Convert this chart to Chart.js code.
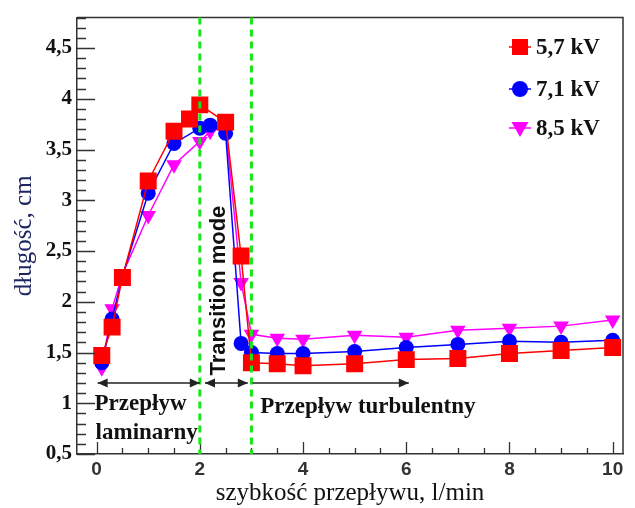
<!DOCTYPE html>
<html>
<head>
<meta charset="utf-8">
<script src="https://cdn.jsdelivr.net/npm/chart.js@4"></script>
<style>
  html, body { margin: 0; padding: 0; background: #fff; }
  #wrap { width: 635px; height: 508px; }
</style>
</head>
<body>
<div id="wrap"><canvas id="chart" width="635" height="508"></canvas></div>
<script>
// Flow rate (l/min) and discharge length (cm) per voltage
const flow57 = [0.1, 0.3, 0.5, 1.0, 1.5, 1.8, 2.0, 2.5, 2.8, 3.0, 3.5, 4, 5, 6, 7, 8, 9, 10];
const len57  = [1.47, 1.75, 2.24, 3.19, 3.68, 3.80, 3.94, 3.77, 2.45, 1.40, 1.39, 1.37, 1.39, 1.43, 1.44, 1.49, 1.52, 1.55];

const flow71 = [0.1, 0.3, 0.5, 1.0, 1.5, 2.0, 2.2, 2.5, 2.8, 3.0, 3.5, 4, 5, 6, 7, 8, 9, 10];
const len71  = [1.40, 1.83, 2.25, 3.07, 3.56, 3.71, 3.74, 3.66, 1.59, 1.50, 1.49, 1.49, 1.51, 1.55, 1.58, 1.61, 1.60, 1.62];

const flow85 = [0.1, 0.3, 0.5, 1.0, 1.5, 2.0, 2.2, 2.5, 2.8, 3.0, 3.5, 4, 5, 6, 7, 8, 9, 10];
const len85  = [1.35, 1.93, 2.27, 2.85, 3.35, 3.58, 3.68, 3.72, 2.19, 1.68, 1.64, 1.63, 1.67, 1.65, 1.72, 1.74, 1.76, 1.82];

const seriesLabels = ['5,7 kV', '7,1 kV', '8,5 kV'];

const xTickLabels = [0, 2, 4, 6, 8, 10];
const yTickLabels = [0.5, 1, 1.5, 2, 2.5, 3, 3.5, 4, 4.5];

// Flow regime annotations (data units)
const regimeBounds = [2, 3];
const arrowLevel = 1.2;
const arrowSpans = [[0.02, 2.0, true], [2.1, 2.93, true], [3.02, 6.05, false]];

function pts(xs, ys) {
    return xs.map(function(x, i) { return { x: x, y: ys[i] }; });
}
function fmt(v) { return String(v).replace('.', ','); }

// Inside ticks, frame, regime lines, arrows and labels
var overlay = {
    id: 'overlay',
    afterDatasetsDraw: function(chart) {
        var ctx = chart.ctx, a = chart.chartArea;
        var xs = chart.scales.x, ys = chart.scales.y;
        ctx.save();

        // frame (top + right)
        ctx.strokeStyle = '#333';
        ctx.lineWidth = 1.5;
        ctx.beginPath();
        ctx.moveTo(a.left, a.top);
        ctx.lineTo(a.right, a.top);
        ctx.lineTo(a.right, a.bottom);
        ctx.stroke();

        // y ticks every 0.1, long at 0.5
        ctx.lineWidth = 1.3;
        ctx.beginPath();
        for (var i = 5; i <= 48; i++) {
            var py = Math.round(ys.getPixelForValue(i / 10)) + 0.5;
            var len = (i % 5 === 0) ? 18 : 9;
            ctx.moveTo(a.left, py);
            ctx.lineTo(a.left + len, py);
        }
        // x ticks every 0.5, long at even integers
        for (var j = 0; j <= 20; j++) {
            var px = Math.round(xs.getPixelForValue(j / 2)) + 0.5;
            var l2 = (j % 4 === 0) ? 12 : 6;
            ctx.moveTo(px, a.bottom);
            ctx.lineTo(px, a.bottom - l2);
        }
        ctx.stroke();

        // regime boundaries
        ctx.strokeStyle = '#19e619';
        ctx.lineWidth = 3;
        ctx.setLineDash([7, 5]);
        regimeBounds.forEach(function(b) {
            var bx = xs.getPixelForValue(b);
            ctx.beginPath();
            ctx.moveTo(bx, a.top);
            ctx.lineTo(bx, a.bottom);
            ctx.stroke();
        });
        ctx.setLineDash([]);

        // arrows
        var ay = ys.getPixelForValue(arrowLevel);
        ctx.strokeStyle = '#222';
        ctx.fillStyle = '#222';
        ctx.lineWidth = 1.5;
        function head(x, dir) {
            ctx.beginPath();
            ctx.moveTo(x, ay);
            ctx.lineTo(x - dir * 10, ay - 4.5);
            ctx.lineTo(x - dir * 10, ay + 4.5);
            ctx.closePath();
            ctx.fill();
        }
        arrowSpans.forEach(function(s) {
            var x1 = xs.getPixelForValue(s[0]), x2 = xs.getPixelForValue(s[1]);
            ctx.beginPath();
            ctx.moveTo(x1, ay);
            ctx.lineTo(x2, ay);
            ctx.stroke();
            head(x2, 1);
            if (s[2]) head(x1, -1);
        });

        // labels
        ctx.fillStyle = '#111';
        ctx.textBaseline = 'middle';
        ctx.textAlign = 'left';
        ctx.font = 'bold 23px "Liberation Serif", serif';
        ctx.fillText('Przepływ', xs.getPixelForValue(-0.04), ys.getPixelForValue(0.99));
        ctx.fillText('laminarny', xs.getPixelForValue(-0.02), ys.getPixelForValue(0.71));
        ctx.fillText('Przepływ turbulentny', xs.getPixelForValue(3.17), ys.getPixelForValue(0.96));

        ctx.save();
        ctx.translate(xs.getPixelForValue(2.38), ys.getPixelForValue(2.11));
        ctx.rotate(-Math.PI / 2);
        ctx.textAlign = 'center';
        ctx.font = 'bold 22px "Liberation Sans", sans-serif';
        ctx.fillText('Transition mode', 0, 0);
        ctx.restore();

        // legend (top right, inside plot)
        var ly = [47, 89, 128];
        chart.data.datasets.forEach(function(ds, k) {
            var mx = 520, my = ly[k];
            ctx.strokeStyle = ds.borderColor;
            ctx.fillStyle = ds.backgroundColor;
            ctx.lineWidth = 1.5;
            ctx.beginPath();
            ctx.moveTo(mx - 11, my);
            ctx.lineTo(mx + 11, my);
            ctx.stroke();
            ctx.beginPath();
            if (ds.pointStyle === 'rect') {
                ctx.rect(mx - 8, my - 8, 16, 16);
            } else if (ds.pointStyle === 'circle') {
                ctx.arc(mx, my, 8, 0, Math.PI * 2);
            } else {
                ctx.moveTo(mx - 8.5, my - 6);
                ctx.lineTo(mx + 8.5, my - 6);
                ctx.lineTo(mx, my + 9);
                ctx.closePath();
            }
            ctx.fill();
            ctx.fillStyle = '#111';
            ctx.font = 'bold 23px "Liberation Serif", serif';
            ctx.textAlign = 'left';
            ctx.fillText(ds.label, 536, my + 1);
        });

        ctx.restore();
    }
};

new Chart(document.getElementById('chart'), {
    type: 'line',
    data: {
        datasets: [{
            label: seriesLabels[0],
            data: pts(flow57, len57),
            borderColor: '#ff0000',
            backgroundColor: '#ff0000',
            borderWidth: 1.5,
            pointStyle: 'rect',
            pointRadius: 12,
            pointBorderWidth: 0,
        }, {
            label: seriesLabels[1],
            data: pts(flow71, len71),
            borderColor: '#0000ff',
            backgroundColor: '#0000ff',
            borderWidth: 1.5,
            pointStyle: 'circle',
            pointRadius: 7.5,
            pointBorderWidth: 0,
        }, {
            label: seriesLabels[2],
            data: pts(flow85, len85),
            borderColor: '#ff00ff',
            backgroundColor: '#ff00ff',
            borderWidth: 1.5,
            pointStyle: 'triangle',
            pointRotation: 180,
            pointRadius: 9,
            pointBorderWidth: 0,
        }]
    },
    options: {
        responsive: false,
        animation: false,
        layout: { padding: { top: 15, right: 3, left: 0, bottom: 0 } },
        plugins: {
            legend: { display: false },
            tooltip: { enabled: false }
        },
        scales: {
            x: {
                type: 'linear',
                min: -0.38,
                max: 10.2,
                afterBuildTicks: function(scale) {
                    scale.ticks = xTickLabels.map(function(v) { return { value: v }; });
                },
                afterFit: function(scale) { scale.height = 54; },
                grid: { display: false, drawTicks: false },
                border: { display: true, color: '#333', width: 1.5 },
                ticks: {
                    color: '#333',
                    padding: 4,
                    font: { family: '"Liberation Sans", sans-serif', size: 19, weight: 'bold' },
                    callback: function(v) { return fmt(v); }
                },
                title: {
                    display: true,
                    text: 'szybkość przepływu, l/min',
                    color: '#111',
                    font: { family: '"Liberation Serif", serif', size: 25 },
                    padding: { top: 0, bottom: 0 }
                }
            },
            y: {
                min: 0.5,
                max: 4.8,
                afterBuildTicks: function(scale) {
                    scale.ticks = yTickLabels.map(function(v) { return { value: v }; });
                },
                afterFit: function(scale) { scale.width = 77; },
                grid: { display: false, drawTicks: false },
                border: { display: true, color: '#333', width: 1.5 },
                ticks: {
                    color: '#111',
                    padding: 5,
                    font: { family: '"Liberation Serif", serif', size: 21, weight: 'bold' },
                    callback: function(v) { return fmt(v); }
                },
                title: {
                    display: true,
                    text: 'długość, cm',
                    color: '#1c2560',
                    font: { family: '"Liberation Serif", serif', size: 25 },
                    padding: { top: 9, bottom: 0 }
                }
            }
        }
    },
    plugins: [overlay]
});
</script>
</body>
</html>
